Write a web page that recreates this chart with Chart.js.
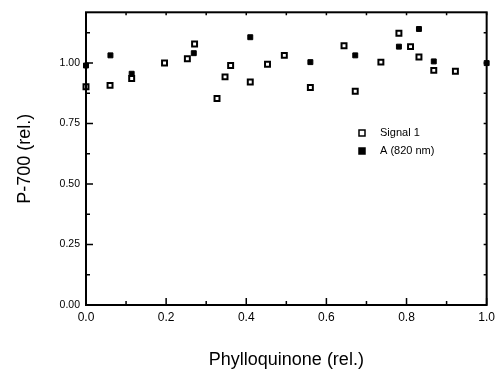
<!DOCTYPE html>
<html>
<head>
<meta charset="utf-8">
<script src="https://cdn.jsdelivr.net/npm/chart.js@4"></script>
<style>
  html, body { margin: 0; padding: 0; background: #fff; }
  #wrap { width: 500px; height: 375px; }
</style>
</head>
<body>
<div id="wrap"><canvas id="chart" width="500" height="375"></canvas></div>
<script>
// data
const signal1X = [0.00, 0.06, 0.114, 0.196, 0.253, 0.271, 0.327, 0.347, 0.361, 0.410, 0.453, 0.495, 0.560, 0.644, 0.672, 0.736, 0.781, 0.810, 0.831, 0.868, 0.922];
const signal1Y = [0.902, 0.908, 0.936, 1.000, 1.018, 1.079, 0.854, 0.943, 0.990, 0.922, 0.995, 1.032, 0.899, 1.072, 0.884, 1.004, 1.123, 1.068, 1.025, 0.970, 0.966];
const aX = [0.00, 0.061, 0.114, 0.269, 0.410, 0.560, 0.672, 0.781, 0.831, 0.868, 1.00];
const aY = [0.990, 1.032, 0.956, 1.041, 1.107, 1.004, 1.032, 1.068, 1.141, 1.007, 1.000];
const seriesLabels = ['Signal 1', 'A (820 nm)'];
const xTicks = [0, 0.2, 0.4, 0.6, 0.8, 1.0];
const yTicks = [0, 0.25, 0.5, 0.75, 1.0];

const FONT = '"Liberation Sans", Arial, sans-serif';
const toPoints = (xs, ys) => xs.map((x, i) => ({ x: x, y: ys[i] }));

// frame, inward ticks and legend drawn with the chart's own scales
const framePlugin = {
    id: 'frame',
    afterDraw(chart) {
        const ctx = chart.ctx;
        const a = chart.chartArea;
        const xs = chart.scales.x, ys = chart.scales.y;
        ctx.save();
        ctx.strokeStyle = '#000';
        ctx.lineWidth = 2;
        ctx.strokeRect(a.left, a.top, a.right - a.left, a.bottom - a.top);

        ctx.lineWidth = 1.5;
        ctx.beginPath();
        for (let i = 0; i <= 10; i++) {
            const px = xs.getPixelForValue(i / 10);
            const len = i % 2 === 0 ? 7 : 4;
            ctx.moveTo(px, a.bottom); ctx.lineTo(px, a.bottom - len);
            ctx.moveTo(px, a.top); ctx.lineTo(px, a.top + 3);
        }
        for (let i = 0; i <= 9; i++) {
            const v = i * 0.125;
            if (v > ys.max) break;
            const py = ys.getPixelForValue(v);
            const len = i % 2 === 0 ? 7 : 4;
            ctx.moveTo(a.left, py); ctx.lineTo(a.left + len, py);
            ctx.moveTo(a.right, py); ctx.lineTo(a.right - 3, py);
        }
        ctx.stroke();

        // legend
        ctx.font = '11px ' + FONT;
        ctx.textBaseline = 'middle';
        chart.data.datasets.forEach((ds, i) => {
            const y = 133 + i * 18;
            const x = 362;
            ctx.fillStyle = ds.pointBackgroundColor;
            ctx.fillRect(x - 3, y - 3, 6, 6);
            ctx.lineWidth = 1.5;
            ctx.strokeRect(x - 3, y - 3, 6, 6);
            ctx.fillStyle = '#000';
            ctx.fillText(ds.label, x + 18, y);
        });
        ctx.restore();
    }
};

new Chart(document.getElementById('chart').getContext('2d'), {
    type: 'scatter',
    data: {
        datasets: [
            { label: seriesLabels[0], data: toPoints(signal1X, signal1Y), pointStyle: 'rect', pointRadius: 3.5, clip: false,
              pointBackgroundColor: '#fff', pointBorderColor: '#000', pointBorderWidth: 2 },
            { label: seriesLabels[1], data: toPoints(aX, aY), pointStyle: 'rect', pointRadius: 3.5, clip: false,
              pointBackgroundColor: '#000', pointBorderColor: '#000', pointBorderWidth: 1 }
        ]
    },
    options: {
        responsive: false,
        animation: false,
        layout: { padding: { top: 10, right: 12, left: 0, bottom: 0 } },
        plugins: { legend: { display: false }, tooltip: { enabled: false } },
        scales: {
            x: {
                type: 'linear', min: 0, max: 1,
                afterBuildTicks: s => { s.ticks = xTicks.map(v => ({ value: v })); },
                afterFit: s => { s.height = 70; },
                grid: { display: false, drawTicks: false },
                border: { display: false },
                ticks: { color: '#000', padding: 5, maxRotation: 0, font: { size: 12, family: FONT },
                         callback: v => v.toFixed(1) },
                title: { display: true, text: 'Phylloquinone (rel.)', color: '#000', padding: { top: 22 },
                         font: { size: 18, family: FONT } }
            },
            y: {
                type: 'linear', min: 0, max: 1.21,
                afterBuildTicks: s => { s.ticks = yTicks.map(v => ({ value: v })); },
                afterFit: s => { s.width = 86; },
                grid: { display: false, drawTicks: false },
                border: { display: false },
                ticks: { color: '#000', padding: 6, font: { size: 10.5, family: FONT },
                         callback: v => v.toFixed(2) },
                title: { display: true, text: 'P-700 (rel.)', color: '#000', padding: { top: 14, bottom: 0 },
                         font: { size: 18, family: FONT } }
            }
        }
    },
    plugins: [framePlugin]
});
</script>
</body>
</html>
